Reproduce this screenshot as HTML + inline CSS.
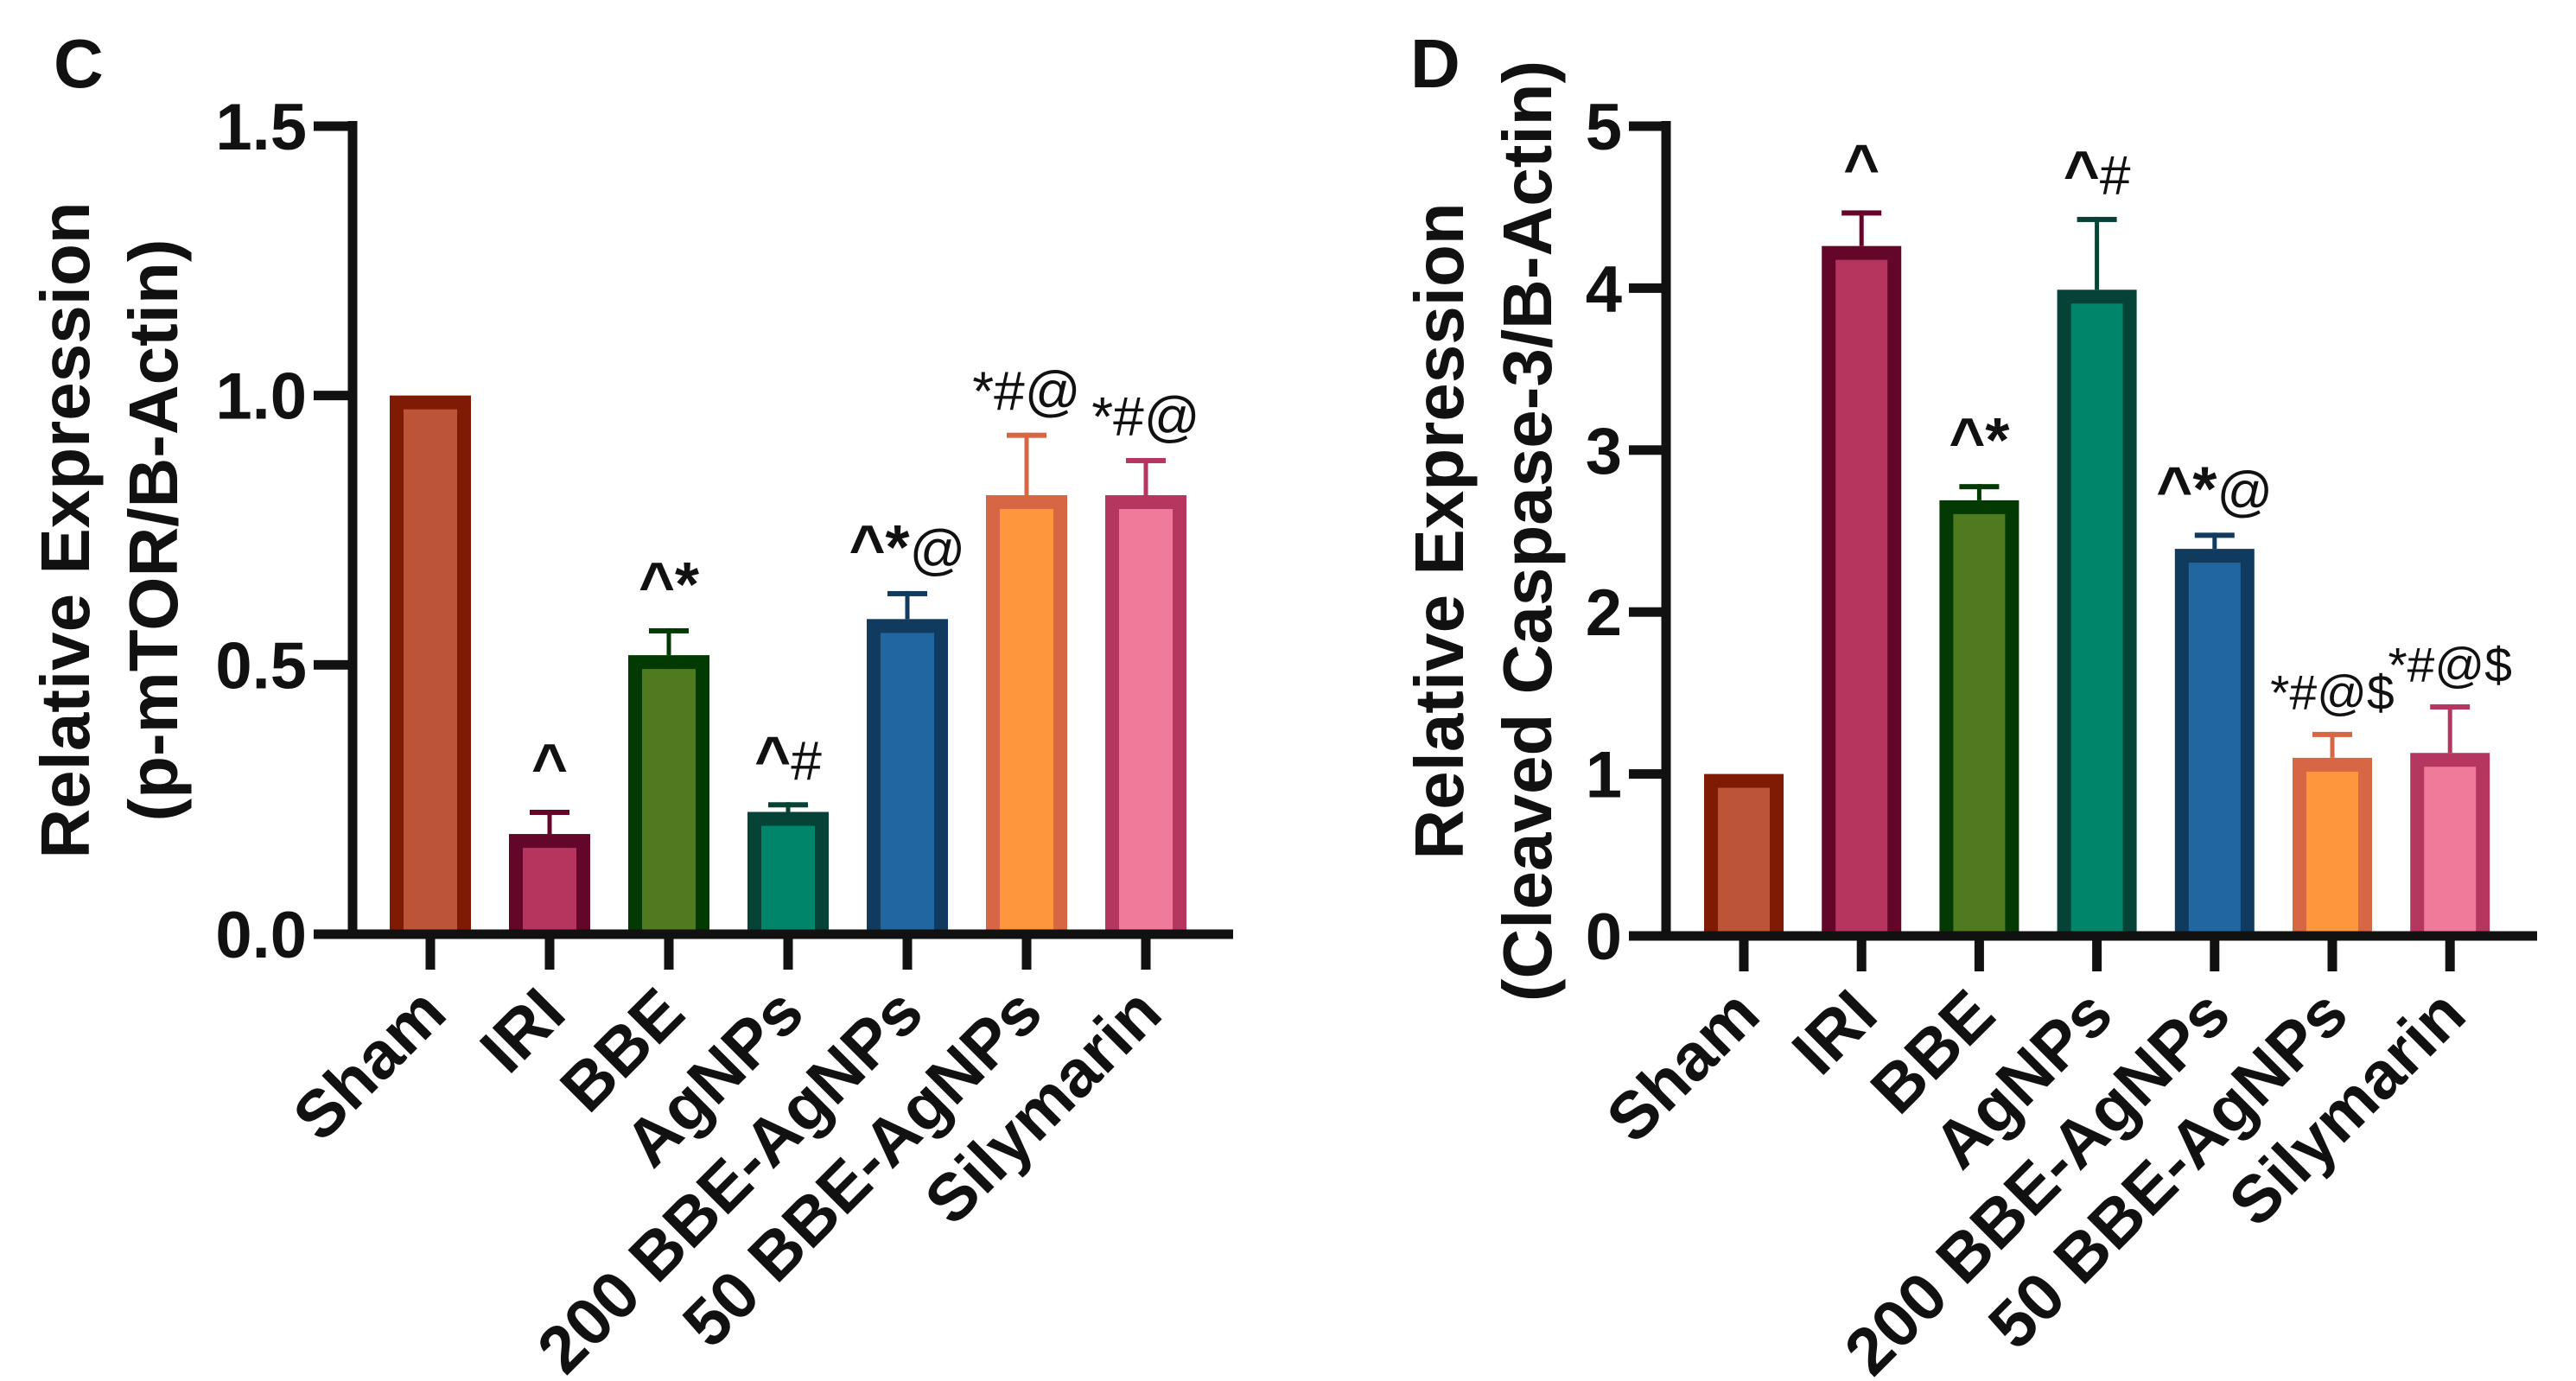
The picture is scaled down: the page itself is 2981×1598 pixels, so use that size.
<!DOCTYPE html>
<html><head><meta charset="utf-8"><style>
html,body{margin:0;padding:0;background:#fff;}
svg{display:block;font-family:"Liberation Sans",Arial,sans-serif;}
</style></head><body>
<svg id="fig" width="2981" height="1598" viewBox="0 0 2981 1598" xmlns="http://www.w3.org/2000/svg"></svg>
<script>
const categories = ["Sham","IRI","BBE","AgNPs","200 BBE-AgNPs","50 BBE-AgNPs","Silymarin"];
const mtorValues = [1.0,0.186,0.518,0.227,0.585,0.815,0.815];
const mtorErrors = [0,0.045,0.05,0.018,0.052,0.116,0.069];
const mtorMarks = ["","^","^*","^#","^*@","*#@","*#@"];
const mtorTicks = ["0.0","0.5","1.0","1.5"];
const mtorTickVals = [0,0.5,1.0,1.5];
const caspValues = [1.0,4.26,2.69,3.99,2.39,1.10,1.13];
const caspErrors = [0,0.22,0.10,0.45,0.10,0.16,0.30];
const caspMarks = ["","^","^*","^#","^*@","*#@$","*#@$"];
const caspTicks = ["0","1","2","3","4","5"];
const caspTickVals = [0,1,2,3,4,5];
const fills = ["#BC5538","#B5355E","#4F7A20","#00846A","#2266A0","#FD973E","#F07A9A"];
const borders = ["#7F1A05","#64052A","#033A03","#064236","#103A5E","#D66644","#B5365E"];

const NS="http://www.w3.org/2000/svg";
const svg=document.getElementById('fig');
function mk(tag,attrs,parent){const e=document.createElementNS(NS,tag);for(const k in attrs)e.setAttribute(k,attrs[k]);(parent||svg).appendChild(e);return e;}

function chart(o){
  const g=mk('g',{});
  
  
  const y=v=>o.y0-(o.y0-o.yTop)*(v/o.vmax);
  const x=i=>o.x0+i*o.step;
  const hw=o.bw/2, b=16;
  o.values.forEach((v,i)=>{
    const cx=x(i), top=y(v), base=o.y0-5;
    const bg=mk('g',{},g);
    
    
    mk('rect',{x:cx-hw,y:top,width:o.bw,height:base-top,fill:borders[i]},bg);
    mk('rect',{x:cx-hw+b,y:top+b,width:o.bw-2*b,height:Math.max(0,base-top-b),fill:fills[i]},bg);
    if(o.errors[i]>0){
      const et=y(v+o.errors[i]);
      const eb=mk('g',{},g);
      
      
      mk('rect',{x:cx-2.5,y:et,width:5,height:top-et,fill:borders[i]},eb);
      mk('rect',{x:cx-23,y:et,width:46,height:6,fill:borders[i]},eb);
    }
    if(o.marks[i]){
      const et=y(v+o.errors[i]);
      const m=o.marks[i];
      const fs=m.length>3?57:64;
      const t=mk('text',{x:cx,y:et-26,'text-anchor':'middle','font-size':fs,fill:'#111'},g);
      
      
      const boldPrefix=m.startsWith('^');
      for(const ch of m){
        const s=mk('tspan',{},t);
        if(boldPrefix&&(ch==='^'||ch==='*')){s.setAttribute('font-weight','bold');s.setAttribute('font-size',fs+8);}
        s.textContent=ch;
      }
    }
  });
  const ya=mk('rect',{x:o.ax-5.5,y:o.yTop-6,width:11,height:o.y0-o.yTop+11,fill:'#111'},g);
  
  
  const xa=mk('rect',{x:o.axL,y:o.y0-5.5,width:o.axR-o.axL,height:11,fill:'#111'},g);
  
  
  o.tickVals.forEach((tv,k)=>{
    const ty=y(tv);
    mk('rect',{x:o.axL,y:ty-5.5,width:o.ax-o.axL,height:11,fill:'#111'},g);
    const t=mk('text',{x:o.axL-8,y:ty+27,'text-anchor':'end','font-size':76,'font-weight':'bold',fill:'#111'},g);
    
    
    t.textContent=o.ticks[k];
  });
  categories.forEach((c,i)=>{
    const cx=x(i);
    mk('rect',{x:cx-5.5,y:o.y0,width:11,height:41,fill:'#111'},g);
    const t=mk('text',{transform:`translate(${cx+22},${o.y0+95}) rotate(-45)`,'text-anchor':'end','font-size':77,'font-weight':'bold',fill:'#111'},g);
    
    
    t.textContent=c;
  });
  const mid=(o.y0+o.yTop)/2;
  o.title.forEach((ln,k)=>{
    const t=mk('text',{transform:`translate(${o.titleX[k]},${mid}) rotate(-90)`,'text-anchor':'middle','font-size':80,'font-weight':'bold',fill:'#111'},g);
    
    
    t.textContent=ln;
  });
  const p=mk('text',{x:o.panelX,y:101,'font-size':80,'font-weight':'bold',fill:'#111'},g);
  
  
  p.textContent=o.panel;
}
chart({name:'chart-p-mtor',values:mtorValues,errors:mtorErrors,marks:mtorMarks,ticks:mtorTicks,tickVals:mtorTickVals,vmax:1.5,
  y0:1081,yTop:146,x0:498,step:138,bw:94,ax:408,axL:363,axR:1427,title:["Relative Expression","(p-mTOR/B-Actin)"],titleX:[103,205],panel:'C',panelX:62});
chart({name:'chart-caspase-3',values:caspValues,errors:caspErrors,marks:caspMarks,ticks:caspTicks,tickVals:caspTickVals,vmax:5,
  y0:1083,yTop:146,x0:2018,step:136.2,bw:92,ax:1928,axL:1885,axR:2936,title:["Relative Expression","(Cleaved Caspase-3/B-Actin)"],titleX:[1693,1795],panel:'D',panelX:1632});
</script>
</body></html>
